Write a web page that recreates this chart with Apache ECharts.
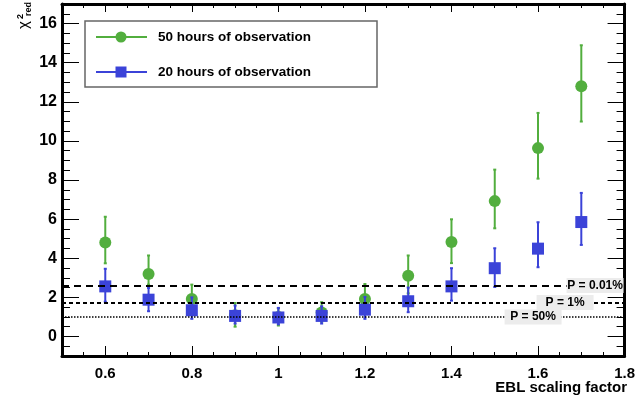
<!DOCTYPE html>
<html><head><meta charset="utf-8">
<script src="https://cdn.jsdelivr.net/npm/echarts@6/dist/echarts.min.js"></script>
<style>html,body{margin:0;padding:0;background:#fff}#c{width:638px;height:401px}</style>
</head><body><div id="c"></div>
<script>
// ---- data ----
const xValues = [0.6, 0.7, 0.8, 0.9, 1.0, 1.1, 1.2, 1.3, 1.4, 1.5, 1.6, 1.7];
const obs50 = [4.80, 3.19, 1.92, 1.08, 1.00, 1.22, 1.92, 3.10, 4.83, 6.92, 9.63, 12.79];
const obs50Low = [3.74, 2.65, 1.25, 0.50, 0.56, 0.75, 1.20, 2.20, 3.75, 5.53, 8.07, 10.99];
const obs50High = [6.12, 4.14, 2.65, 1.71, 1.45, 1.75, 2.68, 4.14, 5.99, 8.53, 11.43, 14.89];
const obs20 = [2.56, 1.88, 1.34, 1.05, 0.97, 1.05, 1.37, 1.80, 2.56, 3.49, 4.49, 5.85];
const obs20Low = [1.78, 1.29, 0.90, 0.66, 0.62, 0.66, 0.90, 1.24, 1.83, 2.53, 3.54, 4.68];
const obs20High = [3.46, 2.48, 2.00, 1.58, 1.46, 1.54, 2.02, 2.50, 3.49, 4.51, 5.84, 7.34];
const seriesNames = ['50 hours of observation', '20 hours of observation'];
const refValues = [2.6, 1.73, 1.0];
const refLabels = ['P = 0.01%', 'P = 1%', 'P = 50%'];
const xMajorTicks = [0.6, 0.8, 1.0, 1.2, 1.4, 1.6, 1.8];
const xMinorTicks = [0.55, 0.65, 0.7, 0.75, 0.85, 0.9, 0.95, 1.05, 1.1, 1.15, 1.25, 1.3, 1.35, 1.45, 1.5, 1.55, 1.65, 1.7, 1.75];
const yMajorTicks = [0, 2, 4, 6, 8, 10, 12, 14, 16];
const yMinorTicks = [];
for (let i = -1; i <= 33; i++) { const v = i * 0.5; if (v % 2 !== 0) yMinorTicks.push(v); }
const xLabel = 'EBL scaling factor';

// ---- style ----
const GREEN = '#52ae3e';
const BLUE = '#3b43d8';
const FONT = "'Liberation Sans', Arial, sans-serif";
const XMIN = 0.5, XMAX = 1.8, YMIN = -1, YMAX = 17;

function errData(lo, hi) { return xValues.map((x, i) => [x, lo[i], hi[i]]); }
function errRender(color) {
  return function (params, api) {
    const x = api.value(0);
    const p1 = api.coord([x, api.value(1)]);
    const p2 = api.coord([x, api.value(2)]);
    const st = { stroke: color, lineWidth: 2 };
    return { type: 'group', children: [
      { type: 'line', shape: { x1: p1[0], y1: p1[1], x2: p2[0], y2: p2[1] }, style: st },
      { type: 'line', shape: { x1: p1[0] - 1.5, y1: p1[1], x2: p1[0] + 1.5, y2: p1[1] }, style: st },
      { type: 'line', shape: { x1: p2[0] - 1.5, y1: p2[1], x2: p2[0] + 1.5, y2: p2[1] }, style: st }
    ]};
  };
}

function xAx(pos, ticks, len, withLine, withLabel) {
  return {
    type: 'value', position: pos, min: XMIN, max: XMAX,
    axisLine: { show: withLine, onZero: false, lineStyle: { color: '#000', width: 3 } },
    axisTick: { show: true, inside: true, length: len, customValues: ticks, lineStyle: { color: '#000', width: 1 } },
    axisLabel: withLabel ? { show: true, customValues: ticks, color: '#000', fontFamily: FONT, fontWeight: 'bold', fontSize: 15, margin: 10,
      formatter: v => String(Math.round(v * 10) / 10) } : { show: false },
    splitLine: { show: false }
  };
}
function yAx(pos, ticks, len, withLine, withLabel) {
  return {
    type: 'value', position: pos, min: YMIN, max: YMAX,
    axisLine: { show: withLine, onZero: false, lineStyle: { color: '#000', width: 3 } },
    axisTick: { show: true, inside: true, length: len, customValues: ticks, lineStyle: { color: '#000', width: 1 } },
    axisLabel: withLabel ? { show: true, customValues: ticks, color: '#000', fontFamily: FONT, fontWeight: 'bold', fontSize: 16, margin: 5 } : { show: false },
    splitLine: { show: false }
  };
}

const refStyles = [
  { type: [7, 5], width: 2, distance: 1 },
  { type: [4, 3], width: 2, distance: 31 },
  { type: [1.5, 1.5], width: 1.5, distance: 63 }
];

const chart = echarts.init(document.getElementById('c'), null, { renderer: 'canvas' });
chart.setOption({
  animation: false,
  backgroundColor: '#fff',
  grid: { left: 62, right: 10, top: 4, bottom: 45, containLabel: false },
  xAxis: [
    xAx('bottom', xMajorTicks, 10, true, true),
    xAx('bottom', xMinorTicks, 4, false, false),
    xAx('top', xMajorTicks, 8, true, false),
    xAx('top', xMinorTicks, 4, false, false)
  ],
  yAxis: [
    yAx('left', yMajorTicks, 17, true, true),
    yAx('left', yMinorTicks, 8, false, false),
    yAx('right', yMajorTicks, 17, true, false),
    yAx('right', yMinorTicks, 8, false, false)
  ],
  series: [
    { name: seriesNames[0] + ' err', type: 'custom', xAxisIndex: 0, yAxisIndex: 0, z: 2,
      renderItem: errRender(GREEN), data: errData(obs50Low, obs50High), encode: { x: 0, y: [1, 2] } },
    { name: seriesNames[0], type: 'scatter', xAxisIndex: 0, yAxisIndex: 0, z: 2, symbol: 'circle', symbolSize: 12,
      itemStyle: { color: GREEN, opacity: 1 }, data: xValues.map((x, i) => [x, obs50[i]]) },
    { name: seriesNames[1] + ' err', type: 'custom', xAxisIndex: 0, yAxisIndex: 0, z: 3,
      renderItem: errRender(BLUE), data: errData(obs20Low, obs20High), encode: { x: 0, y: [1, 2] } },
    { name: seriesNames[1], type: 'scatter', xAxisIndex: 0, yAxisIndex: 0, z: 3, symbol: 'rect', symbolSize: 12,
      itemStyle: { color: BLUE, opacity: 1 }, data: xValues.map((x, i) => [x, obs20[i]]) },
    { name: 'ref', type: 'line', xAxisIndex: 0, yAxisIndex: 0, z: 5, data: [],
      markLine: { silent: true, symbol: 'none', animation: false,
        data: refValues.map((v, i) => ({
          yAxis: v,
          lineStyle: { color: '#000', type: refStyles[i].type, width: refStyles[i].width },
          label: { show: true, position: 'insideEnd', distance: [refStyles[i].distance, 0],
            formatter: '{t|' + refLabels[i] + '}',
            backgroundColor: '#ececec', padding: [1, 3, 1, 3],
            rich: { t: { width: 51, align: 'center', color: '#000', fontFamily: FONT, fontWeight: 'bold', fontSize: 12, lineHeight: 13 } } }
        }))
      } }
  ],
  graphic: [
    { type: 'rect', shape: { x: 85, y: 21, width: 292, height: 66 }, style: { fill: '#fff', stroke: '#666', lineWidth: 1.5 }, z: 10 },
    { type: 'line', shape: { x1: 96, y1: 37, x2: 147, y2: 37 }, style: { stroke: GREEN, lineWidth: 2 }, z: 11 },
    { type: 'circle', shape: { cx: 121, cy: 37, r: 5.5 }, style: { fill: GREEN }, z: 11 },
    { type: 'text', x: 158, y: 37, style: { text: seriesNames[0], font: 'bold 13.5px ' + FONT, fill: '#000', verticalAlign: 'middle', align: 'left' }, z: 11 },
    { type: 'line', shape: { x1: 96, y1: 72, x2: 147, y2: 72 }, style: { stroke: BLUE, lineWidth: 2 }, z: 11 },
    { type: 'rect', shape: { x: 115.5, y: 66.5, width: 11, height: 11 }, style: { fill: BLUE }, z: 11 },
    { type: 'text', x: 158, y: 72, style: { text: seriesNames[1], font: 'bold 13.5px ' + FONT, fill: '#000', verticalAlign: 'middle', align: 'left' }, z: 11 },
    { type: 'text', x: 627, y: 388, style: { text: xLabel, font: 'bold 15px ' + FONT, fill: '#000', align: 'right', verticalAlign: 'middle' }, z: 11 },
    { type: 'group', x: 16, y: 29, rotation: Math.PI / 2, z: 11, children: [
      { type: 'text', x: 0, y: 0, style: { text: 'χ', font: '15px ' + FONT, fill: '#000', align: 'left', verticalAlign: 'top' } },
      { type: 'text', x: 10, y: 0, style: { text: '2', font: 'bold 9px ' + FONT, fill: '#000', align: 'left', verticalAlign: 'top' } },
      { type: 'text', x: 13, y: 8, style: { text: 'red', font: 'bold 9px ' + FONT, fill: '#000', align: 'left', verticalAlign: 'top' } }
    ]}
  ]
});
</script></body></html>
